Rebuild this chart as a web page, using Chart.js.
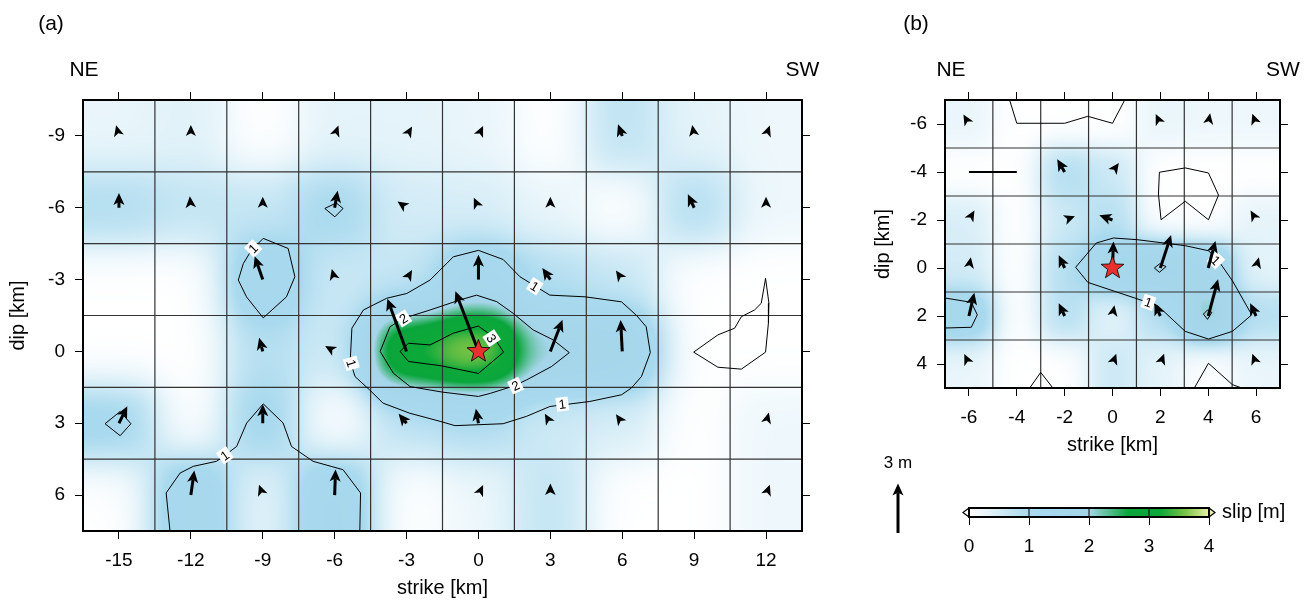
<!DOCTYPE html>
<html>
<head>
<meta charset="utf-8">
<title>slip distribution</title>
<script src="https://cdn.jsdelivr.net/npm/chart.js@4.4.0/dist/chart.umd.min.js"></script>
<style>
  html, body { margin: 0; padding: 0; background: #fff; }
  body { width: 1314px; height: 603px; position: relative; overflow: hidden; }
  canvas { position: absolute; display: block; }
  #chartA { left: 0; top: 0; }
  #chartB { left: 865px; top: 0; }
  #chartC { left: 865px; top: 440px; }
</style>
</head>
<body>
<canvas id="chartA" width="830" height="603"></canvas>
<canvas id="chartB" width="449" height="460"></canvas>
<canvas id="chartC" width="449" height="163"></canvas>
<script>
// ---- panel (a): 3 km subfaults ----
const strikeA = [-15, -12, -9, -6, -3, 0, 3, 6, 9, 12];
const dipA = [-9, -6, -3, 0, 3, 6];
const xTicksA = [-15, -12, -9, -6, -3, 0, 3, 6, 9, 12];
const yTicksA = [-9, -6, -3, 0, 3, 6];
// slip [m] per subfault, rows follow dipA
const slipA = [
  [0.25, 0.35, 0.0, 0.3, 0.3, 0.25, 0.0, 0.75, 0.3, 0.2],
  [0.9, 0.7, 0.65, 1.05, 0.5, 0.45, 0.25, 0.0, 0.9, 0.2],
  [0.0, 0.0, 1.5, 0.6, 0.65, 1.5, 0.85, 0.65, 0.0, 0.0],
  [0.0, 0.0, 0.85, 0.55, 3.4, 3.9, 2.05, 1.9, 0.0, 0.0],
  [1.15, 0.0, 1.15, 0.0, 0.75, 0.9, 0.55, 0.45, 0.0, 0.2],
  [0.0, 1.5, 0.3, 1.55, 0.0, 0.2, 0.7, 0.0, 0.0, 0.2]
];
// rake [deg], 90 = up dip
const rakeA = [
  [105, 90, 90, 70, 60, 65, 90, 110, 100, 70],
  [90, 95, 90, 80, 145, 115, 90, 90, 115, 90],
  [90, 90, 109, 105, 60, 90, 125, 125, 90, 90],
  [90, 90, 105, 150, 110, 111, 69, 93, 90, 90],
  [64, 90, 90, 90, 130, 100, 120, 125, 90, 75],
  [90, 82, 110, 88, 90, 65, 90, 90, 90, 70]
];
const contoursA = [
  [[-5.28,-0.97],[-4.8,-1.73],[-3.83,-2.22],[-2.99,-2.42],[-2.02,-2.98],[-1.05,-3.95],[0,-4.22],[1.03,-3.84],[1.73,-3.12],[2.98,-2.35],[4.45,-2.28],[5.97,-2.07],[6.6,-1.5],[7.0,-1.03],[7.17,0.05],[6.8,1.05],[6.38,1.53],[5.97,1.81],[4.65,2.09],[2.98,2.3],[2.01,2.71],[1.03,3.02],[-0.98,3.1],[-1.6,2.92],[-2.87,2.58],[-3.98,2.16],[-4.55,1.6],[-5.15,1.05],[-5.35,0.4],[-5.28,-0.97]],
  [[-4.1,0.0],[-3.69,-1.03],[-3.13,-1.38],[-2.02,-1.73],[-0.77,-2.15],[-0.08,-2.35],[0.76,-2.08],[1.45,-1.59],[2.28,-0.9],[3.12,-0.48],[3.79,0.05],[3.05,0.63],[2.01,1.19],[1.45,1.45],[0.5,1.75],[0,1.88],[-1.5,1.7],[-2.85,1.47],[-3.55,0.91],[-4.1,0.0]],
  [[-3.27,0.0],[-2.92,-0.34],[-2.02,-0.27],[-1.05,-0.76],[-0.01,-1.06],[0.62,-0.62],[1.05,0.03],[0.0,0.92],[-1.55,0.6],[-2.92,0.42],[-3.27,0.0]],
  [[-8.98,-4.72],[-7.94,-4.3],[-7.66,-3.12],[-8.01,-2.28],[-8.98,-1.4],[-9.68,-2.28],[-10.02,-2.98],[-9.81,-3.67],[-9.47,-4.23],[-8.98,-4.72]],
  [[-6.41,-5.97],[-5.93,-6.2],[-5.65,-5.97],[-5.99,-5.62],[-6.41,-5.97]],
  [[-15.58,3.02],[-14.95,2.51],[-14.5,3.02],[-14.95,3.52],[-15.58,3.02]],
  [[-12.87,7.5],[-13.03,5.91],[-12.45,5.08],[-11.9,4.8],[-10.93,4.59],[-10.58,4.34],[-10.09,3.97],[-9.67,2.99],[-8.98,2.19],[-8.15,2.99],[-7.8,3.97],[-6.9,4.59],[-5.65,4.94],[-4.92,5.91],[-4.95,7.5]],
  [[8.98,0.03],[9.99,-0.69],[10.69,-0.97],[10.97,-1.45],[11.52,-1.73],[11.8,-2.01],[11.98,-3.05],[12.12,-2.01],[12.1,-1.2],[11.98,0.03],[10.97,0.74],[9.99,0.66],[8.98,0.03]]
];
const contourLabelsA = [
  [-9.4, -4.3, '1'], [2.35, -2.72, '1'], [-5.3, 0.5, '1'], [3.5, 2.2, '1'],
  [-3.13, -1.38, '2'], [1.55, 1.43, '2'], [0.55, -0.55, '3'], [-10.58, 4.34, '1']
];
const hypoA = [0, 0];

// ---- panel (b): 2 km subfaults ----
const strikeB = [-6, -4, -2, 0, 2, 4, 6];
const dipB = [-6, -4, -2, 0, 2, 4];
const xTicksB = [-6, -4, -2, 0, 2, 4, 6];
const yTicksB = [-6, -4, -2, 0, 2, 4];
const slipB = [
  [0.25, 0.0, 0.0, 0.0, 0.25, 0.2, 0.2],
  [0.0, 0.0, 0.9, 0.6, 0.0, 0.0, 0.0],
  [0.45, 0.0, 0.6, 0.85, 0.0, 0.0, 0.3],
  [0.5, 0.0, 0.85, 1.6, 2.1, 1.7, 0.3],
  [1.45, 0.0, 0.85, 0.3, 0.85, 2.3, 0.85],
  [0.25, 0.0, 0.0, 0.6, 0.3, 0.0, 0.25]
];
const rakeB = [
  [120, 90, 90, 90, 115, 80, 110],
  [90, 90, 120, 55, 90, 90, 90],
  [60, 90, 20, 160, 90, 90, 120],
  [80, 90, 115, 88, 72, 75, 75],
  [77, 90, 115, 80, 115, 75, 115],
  [115, 90, 90, 70, 70, 90, 110]
];
const contoursB = [
  [[-4.3,-7],[-4,-6.03],[-2,-6.03],[-1.03,-6.32],[0,-6.03],[0.51,-7]],
  [[1.96,-3.99],[3.04,-4.17],[4.01,-3.96],[4.43,-3.04],[4.01,-2.01],[3.04,-2.78],[2.03,-2.01],[1.92,-3.08],[1.96,-3.99]],
  [[-1.54,-0.03],[-1.03,0.6],[1.89,1.57],[3.04,2.64],[4.01,2.96],[5.01,2.64],[5.82,1.95],[5.01,0.53],[4.43,-0.3],[4.01,-0.72],[3.04,-0.93],[1.03,-1.18],[0.04,-1.25],[-0.68,-1.04],[-1.54,-0.03]],
  [[1.75,0],[1.96,-0.17],[2.24,-0.06],[1.96,0.18],[1.75,0]],
  [[3.8,1.92],[3.97,1.75],[4.15,1.85],[3.97,2.14],[3.8,1.92]],
  [[-7,1.25],[-5.9,1.43],[-5.65,1.95],[-5.9,2.47],[-7,2.5]],
  [[-3.46,5],[-3.0,4.35],[-2.49,5]],
  [[3.42,5],[4.01,3.97],[5.01,4.86],[5.4,5]]
];
const contourLabelsB = [[1.5, 1.43, '1'], [4.32, -0.32, '1']];
const scaleBarB = [[-6, -4], [-4, -4]];
const hypoB = [0, 0];

// ---- colour scale ----
const cbarTicks = [0, 1, 2, 3, 4];
const cmapStops = [0, 1, 2, 2.65, 3.2, 3.6, 4];
const cmapColors = ['#ffffff', '#a8d9ee', '#a5d5e9', '#0aa63c', '#0ca83a', '#7ac346', '#ebf1a6'];

const ARROW_PX_PER_M = 16.5;
const FIELD_SMOOTH = 0.41;
const FONT = '"Liberation Sans", Arial, Helvetica, sans-serif';

Chart.defaults.font.family = FONT;
Chart.defaults.color = '#000';

const cmapRGB = cmapColors.map(h => [1, 3, 5].map(i => parseInt(h.slice(i, i + 2), 16)));

function slipRGB(v) {
  if (v <= cmapStops[0]) return cmapRGB[0];
  for (let k = 1; k < cmapStops.length; k++) {
    if (v <= cmapStops[k]) {
      const t = (v - cmapStops[k - 1]) / (cmapStops[k] - cmapStops[k - 1]);
      const a = cmapRGB[k - 1], b = cmapRGB[k];
      return [0, 1, 2].map(i => Math.round(a[i] + (b[i] - a[i]) * t));
    }
  }
  return cmapRGB[cmapRGB.length - 1];
}
const slipCss = v => 'rgb(' + slipRGB(v).join(',') + ')';

const panels = {
  chartA: { strikes: strikeA, dips: dipA, slip: slipA, rake: rakeA, contours: contoursA,
            labels: contourLabelsA, hypo: hypoA, letter: '(a)', letterDx: -32, neDx: 1, swDx: 0.5 },
  chartB: { strikes: strikeB, dips: dipB, slip: slipB, rake: rakeB, contours: contoursB,
            labels: contourLabelsB, hypo: hypoB, letter: '(b)', letterDx: -29, neDx: 6, swDx: 3 }
};

function drawField(chart, p) {
  const {ctx, chartArea: a} = chart;
  const sx = chart.scales.x, sy = chart.scales.y;
  const x0 = Math.round(a.left), y0 = Math.round(a.top);
  const w = Math.round(a.right) - x0, h = Math.round(a.bottom) - y0;
  const nx = p.strikes.length, ny = p.dips.length;
  const sigX = FIELD_SMOOTH * Math.abs(p.strikes[1] - p.strikes[0]);
  const sigY = FIELD_SMOOTH * Math.abs(p.dips[1] - p.dips[0]);
  const wx = [], wy = [];
  for (let i = 0; i < w; i++) {
    const v = sx.getValueForPixel(x0 + i + 0.5);
    wx.push(p.strikes.map(c => Math.exp(-((v - c) ** 2) / (2 * sigX * sigX))));
  }
  for (let j = 0; j < h; j++) {
    const v = sy.getValueForPixel(y0 + j + 0.5);
    wy.push(p.dips.map(c => Math.exp(-((v - c) ** 2) / (2 * sigY * sigY))));
  }
  const img = ctx.createImageData(w, h);
  const col = new Array(nx);
  for (let j = 0; j < h; j++) {
    const wj = wy[j];
    let sw = 0;
    col.fill(0);
    for (let r = 0; r < ny; r++) {
      sw += wj[r];
      for (let c = 0; c < nx; c++) col[c] += wj[r] * p.slip[r][c];
    }
    for (let i = 0; i < w; i++) {
      const wi = wx[i];
      let s = 0, t = 0;
      for (let c = 0; c < nx; c++) { s += wi[c] * col[c]; t += wi[c]; }
      const rgb = slipRGB(s / (t * sw));
      const k = (j * w + i) * 4;
      img.data[k] = rgb[0]; img.data[k + 1] = rgb[1]; img.data[k + 2] = rgb[2]; img.data[k + 3] = 255;
    }
  }
  ctx.putImageData(img, x0, y0);
}

function drawCellEdges(chart, p) {
  const {ctx, chartArea: a} = chart;
  const sx = chart.scales.x, sy = chart.scales.y;
  ctx.save();
  ctx.strokeStyle = '#333';
  ctx.lineWidth = 1.2;
  ctx.beginPath();
  for (let i = 1; i < p.strikes.length; i++) {
    const px = sx.getPixelForValue((p.strikes[i - 1] + p.strikes[i]) / 2);
    ctx.moveTo(px, a.top); ctx.lineTo(px, a.bottom);
  }
  for (let j = 1; j < p.dips.length; j++) {
    const py = sy.getPixelForValue((p.dips[j - 1] + p.dips[j]) / 2);
    ctx.moveTo(a.left, py); ctx.lineTo(a.right, py);
  }
  ctx.stroke();
  ctx.restore();
}

function drawArrow(ctx, x0, y0, ang, len) {
  const ux = Math.cos(ang), uy = -Math.sin(ang);
  const head = Math.min(12, len);
  const hw = head * 0.46;
  const tx = x0 + ux * len, ty = y0 + uy * len;
  const bx = tx - ux * head, by = ty - uy * head;
  const nxp = tx - ux * head * 0.75, nyp = ty - uy * head * 0.75;
  ctx.fillStyle = '#000';
  ctx.strokeStyle = '#000';
  if (len > head) {
    ctx.beginPath();
    ctx.moveTo(x0, y0);
    ctx.lineTo(nxp, nyp);
    ctx.lineWidth = 3;
    ctx.lineCap = 'butt';
    ctx.stroke();
  }
  ctx.beginPath();
  ctx.moveTo(tx, ty);
  ctx.lineTo(bx - uy * hw, by + ux * hw);
  ctx.lineTo(nxp, nyp);
  ctx.lineTo(bx + uy * hw, by - ux * hw);
  ctx.closePath();
  ctx.fill();
}

function drawStar(ctx, cx, cy) {
  const R = 12, r = 5;
  ctx.beginPath();
  for (let k = 0; k < 10; k++) {
    const rad = k % 2 ? r : R;
    const t = -Math.PI / 2 + k * Math.PI / 5;
    const x = cx + rad * Math.cos(t), y = cy + rad * Math.sin(t);
    if (k === 0) ctx.moveTo(x, y); else ctx.lineTo(x, y);
  }
  ctx.closePath();
  ctx.fillStyle = '#e8312f';
  ctx.fill();
  ctx.lineWidth = 0.8;
  ctx.strokeStyle = '#000';
  ctx.stroke();
}

function labelAngle(chart, p, px, py) {
  const sx = chart.scales.x, sy = chart.scales.y;
  let best = Infinity, ang = 0;
  p.contours.forEach(c => {
    for (let k = 1; k < c.length; k++) {
      const ax = sx.getPixelForValue(c[k - 1][0]), ay = sy.getPixelForValue(c[k - 1][1]);
      const bx = sx.getPixelForValue(c[k][0]), by = sy.getPixelForValue(c[k][1]);
      const dx = bx - ax, dy = by - ay, L2 = dx * dx + dy * dy || 1;
      const t = Math.max(0, Math.min(1, ((px - ax) * dx + (py - ay) * dy) / L2));
      const d = Math.hypot(ax + t * dx - px, ay + t * dy - py);
      if (d < best) { best = d; ang = Math.atan2(dy, dx); }
    }
  });
  if (ang > Math.PI / 2) ang -= Math.PI;
  if (ang < -Math.PI / 2) ang += Math.PI;
  return ang;
}

const slipPanelPlugin = {
  id: 'slipPanel',
  beforeDatasetsDraw(chart) {
    const p = panels[chart.canvas.id];
    drawField(chart, p);
    drawCellEdges(chart, p);
  },
  afterDatasetsDraw(chart) {
    const p = panels[chart.canvas.id];
    const {ctx, chartArea: a} = chart;
    const sx = chart.scales.x, sy = chart.scales.y;
    ctx.save();
    // contour labels
    ctx.font = '13px ' + FONT;
    p.labels.forEach(([x, y, t]) => {
      const px = sx.getPixelForValue(x), py = sy.getPixelForValue(y);
      const ang = labelAngle(chart, p, px, py);
      ctx.save();
      ctx.translate(px, py);
      ctx.rotate(ang);
      const w = ctx.measureText(t).width + 5;
      ctx.fillStyle = '#fff';
      ctx.fillRect(-w / 2, -7, w, 14);
      ctx.fillStyle = '#000';
      ctx.textAlign = 'center';
      ctx.textBaseline = 'middle';
      ctx.fillText(t, 0, 1);
      ctx.restore();
    });
    // slip vectors
    p.dips.forEach((yv, j) => p.strikes.forEach((xv, i) => {
      const s = p.slip[j][i];
      if (s <= 0) return;
      const len = Math.max(s * ARROW_PX_PER_M, 11);
      drawArrow(ctx, sx.getPixelForValue(xv), sy.getPixelForValue(yv), p.rake[j][i] * Math.PI / 180, len);
    }));
    drawStar(ctx, sx.getPixelForValue(p.hypo[0]), sy.getPixelForValue(p.hypo[1]));
    // frame
    ctx.lineWidth = 2;
    ctx.strokeStyle = '#000';
    ctx.strokeRect(a.left, a.top, a.right - a.left, a.bottom - a.top);
    ctx.restore();
  },
  afterDraw(chart) {
    const p = panels[chart.canvas.id];
    const {ctx, chartArea: a} = chart;
    ctx.save();
    ctx.fillStyle = '#000';
    ctx.textAlign = 'center';
    ctx.textBaseline = 'middle';
    ctx.font = '21px ' + FONT;
    ctx.fillText(p.letter, a.left + p.letterDx, 24);
    ctx.fillText('NE', a.left + p.neDx, 70);
    ctx.fillText('SW', a.right + p.swDx, 70);
    ctx.restore();
  }
};

function axis(position, min, max, ticks, opts) {
  const horizontal = position === 'top' || position === 'bottom';
  return Object.assign({
    type: 'linear', position, min, max, reverse: false,
    afterBuildTicks: s => { s.ticks = ticks.map(v => ({value: v})); },
    grid: { drawOnChartArea: false, drawTicks: true, tickLength: 8, color: '#000', lineWidth: 1 },
    border: { display: false },
    ticks: { display: false, font: { size: 19 }, color: '#000', padding: 10, maxRotation: 0, autoSkip: false }
  }, opts, { afterFit: s => { if (horizontal) s.height = opts.size; else s.width = opts.size; } });
}

function panelChart(id, xr, yr, xt, yt, sizes, extraSets) {
  const p = panels[id];
  const datasets = p.contours.map(c => ({
    data: c.map(([x, y]) => ({x, y})),
    showLine: true, borderColor: '#000', borderWidth: 1, pointRadius: 0, tension: 0, fill: false
  })).concat(extraSets || []);
  return new Chart(document.getElementById(id), {
    type: 'scatter',
    data: { datasets },
    options: {
      responsive: false, animation: false, events: [],
      layout: { padding: 0 },
      plugins: { legend: { display: false }, tooltip: { enabled: false } },
      scales: {
        x: axis('bottom', xr[0], xr[1], xt, {
          size: sizes.bottom,
          ticks: { display: true, font: { size: 19 }, color: '#000', padding: 10, maxRotation: 0, autoSkip: false },
          title: { display: true, text: 'strike [km]', color: '#000', font: { size: 20 }, padding: { top: 0, bottom: 3 } }
        }),
        xTop: axis('top', xr[0], xr[1], xt, { size: sizes.top }),
        y: axis('left', yr[0], yr[1], yt, {
          size: sizes.left, reverse: true,
          ticks: { display: true, font: { size: 19 }, color: '#000', padding: 10, autoSkip: false },
          title: { display: true, text: 'dip [km]', color: '#000', font: { size: 20 }, padding: { top: 6.5, bottom: 0 } }
        }),
        yRight: axis('right', yr[0], yr[1], yt, { size: sizes.right, reverse: true })
      }
    },
    plugins: [slipPanelPlugin]
  });
}

panelChart('chartA', [-16.5, 13.5], [-10.5, 7.5], xTicksA, yTicksA,
  { bottom: 72, top: 100, left: 83, right: 28 });

panelChart('chartB', [-7, 7], [-7, 5], xTicksB, yTicksB,
  { bottom: 72, top: 100, left: 80, right: 34 },
  [{ data: scaleBarB.map(([x, y]) => ({x, y})), showLine: true, borderColor: '#000', borderWidth: 2,
     pointRadius: 0, tension: 0, fill: false }]);

// ---- colour bar and vector scale ----
const colorbarPlugin = {
  id: 'colorbar',
  beforeDatasetsDraw(chart) {
    const {ctx, chartArea: a} = chart;
    const sx = chart.scales.x;
    const mid = (a.top + a.bottom) / 2;
    ctx.save();
    for (let px = Math.floor(a.left); px < a.right; px++) {
      ctx.fillStyle = slipCss(sx.getValueForPixel(px + 0.5));
      ctx.fillRect(px, a.top, 1, a.bottom - a.top);
    }
    ctx.lineWidth = 1.2;
    ctx.strokeStyle = '#000';
    [[a.left, -1, cbarTicks[0]], [a.right, 1, cbarTicks[cbarTicks.length - 1]]].forEach(([ex, dir, v]) => {
      ctx.beginPath();
      ctx.moveTo(ex, a.top);
      ctx.lineTo(ex + dir * 6, mid);
      ctx.lineTo(ex, a.bottom);
      ctx.closePath();
      ctx.fillStyle = slipCss(v);
      ctx.fill();
      ctx.stroke();
    });
    ctx.beginPath();
    cbarTicks.slice(1, -1).forEach(v => {
      const px = sx.getPixelForValue(v);
      ctx.moveTo(px, a.top); ctx.lineTo(px, a.bottom);
    });
    ctx.lineWidth = 1;
    ctx.stroke();
    ctx.lineWidth = 2;
    ctx.strokeRect(a.left, a.top, a.right - a.left, a.bottom - a.top);
    ctx.fillStyle = '#000';
    ctx.font = '20px ' + FONT;
    ctx.textAlign = 'left';
    ctx.textBaseline = 'middle';
    ctx.fillText('slip [m]', a.right + 13, mid);
    // 3 m reference vector
    const ax = a.left - 71, ay = a.bottom + 16;
    drawArrow(ctx, ax, ay, Math.PI / 2, 3 * ARROW_PX_PER_M);
    ctx.font = '17px ' + FONT;
    ctx.textAlign = 'center';
    ctx.fillText('3 m', ax, ay - 70);
    ctx.restore();
  }
};

new Chart(document.getElementById('chartC'), {
  type: 'scatter',
  data: { datasets: [{ data: [] }] },
  options: {
    responsive: false, animation: false, events: [],
    layout: { padding: { left: 104, right: 105, top: 68, bottom: 0 } },
    plugins: { legend: { display: false }, tooltip: { enabled: false } },
    scales: {
      x: {
        type: 'linear', position: 'bottom', min: 0, max: 4,
        afterBuildTicks: s => { s.ticks = cbarTicks.map(v => ({value: v})); },
        afterFit: s => { s.height = 86; },
        grid: { drawOnChartArea: false, drawTicks: true, tickLength: 8, color: '#000' },
        border: { display: false },
        ticks: { font: { size: 19 }, color: '#000', padding: 10, maxRotation: 0, autoSkip: false }
      },
      y: { display: false, min: 0, max: 1 }
    }
  },
  plugins: [colorbarPlugin]
});
</script>
</body>
</html>
